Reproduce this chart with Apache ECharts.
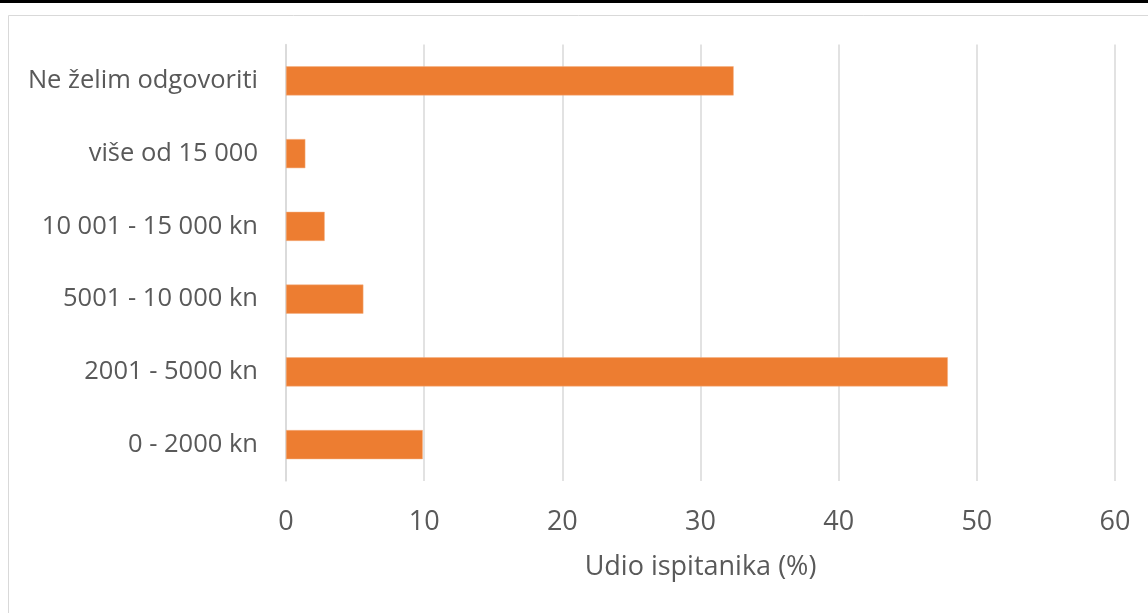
<!DOCTYPE html>
<html>
<head>
<meta charset="utf-8">
<script src="https://cdn.jsdelivr.net/npm/echarts@6/dist/echarts.min.js"></script>
<style>
html,body{margin:0;padding:0;background:#fff;}
#chart{width:1148px;height:613px;}
</style>
</head>
<body>
<div id="chart"></div>
<script>
const categories = ['0 - 2000 kn', '2001 - 5000 kn', '5001 - 10 000 kn', '10 001 - 15 000 kn', 'više od 15 000', 'Ne želim odgovoriti'];
const values = [9.9, 47.9, 5.6, 2.8, 1.4, 32.4];
const axisTitle = 'Udio ispitanika (%)';
const xTicks = { min: 0, max: 60, interval: 10 };

const chart = echarts.init(document.getElementById('chart'));
const font = '"Open Sans", "Noto Sans", sans-serif';
chart.setOption({
  animation: false,
  backgroundColor: '#ffffff',
  graphic: [
    { type: 'rect', shape: { x: 0, y: 0, width: 1148, height: 3 }, style: { fill: '#000000' }, silent: true },
    { type: 'rect', shape: { x: 8.5, y: 15.5, width: 1160, height: 620 }, style: { fill: 'none', stroke: '#d9d9d9', lineWidth: 1 }, silent: true }
  ],
  grid: { left: 286, right: 33, top: 44.5, bottom: 132, containLabel: false },
  xAxis: {
    type: 'value',
    min: xTicks.min, max: xTicks.max, interval: xTicks.interval,
    name: axisTitle,
    nameLocation: 'middle',
    nameGap: 73,
    nameTextStyle: { fontFamily: font, fontSize: 27, color: '#595959' },
    axisLine: { show: false },
    axisTick: { show: false },
    axisLabel: { fontFamily: font, fontSize: 27, color: '#595959', margin: 28 },
    splitLine: { show: true, lineStyle: { color: '#d9d9d9', width: 1.5 } }
  },
  yAxis: {
    type: 'category',
    data: categories,
    axisLine: { show: true, lineStyle: { color: '#d9d9d9', width: 1.5 } },
    axisTick: { show: false },
    axisLabel: { fontFamily: font, fontSize: 25.5, color: '#595959', margin: 28 }
  },
  series: [{
    type: 'bar',
    data: values,
    barCategoryGap: '60%',
    itemStyle: { color: '#ed7d31', borderColor: '#f4b183', borderWidth: 0.5 }
  }]
});
</script>
</body>
</html>
